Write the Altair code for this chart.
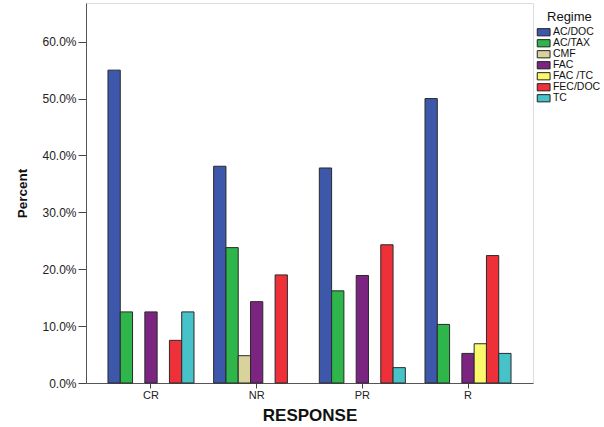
import altair as alt
import pandas as pd

responses = ["CR", "NR", "PR", "R"]
regimes = ["AC/DOC", "AC/TAX", "CMF", "FAC", "FAC /TC", "FEC/DOC", "TC"]
colors = ["#3d58aa", "#2eb64b", "#d8d29b", "#7b2581", "#fbf86c", "#ee3039", "#47c2c8"]

# percent values per response (None = bar absent)
cr_vals = [55.0, 12.5, None, 12.5, None, 7.5, 12.5]
nr_vals = [38.1, 23.8, 4.8, 14.3, None, 19.0, None]
pr_vals = [37.8, 16.2, None, 18.9, None, 24.3, 2.7]
r_vals = [50.0, 10.3, None, 5.2, 6.9, 22.4, 5.2]

rows = []
for resp, vals in zip(responses, [cr_vals, nr_vals, pr_vals, r_vals]):
    for reg, v in zip(regimes, vals):
        if v is not None:
            rows.append({"Response": resp, "Regime": reg, "Percent": v / 100.0})
df = pd.DataFrame(rows)

FONT = "Liberation Sans"

chart = alt.Chart(df).mark_bar(stroke="#2a2a2a", strokeWidth=1).encode(
    x=alt.X(
        "Response:N",
        sort=responses,
        scale=alt.Scale(paddingInner=0.186, paddingOuter=0.208),
        axis=alt.Axis(
            title="RESPONSE", labelAngle=0, labelFont=FONT, labelFontSize=11,
            labelColor="#222", tickSize=5, tickColor="#444", domainColor="#555",
            labelPadding=1, titleFont=FONT, titleFontSize=17, titleFontWeight="bold",
            titleColor="#111", titleY=32, titleBaseline="middle",
        ),
    ),
    xOffset=alt.XOffset("Regime:N", sort=regimes,
                        scale=alt.Scale(domain=regimes, paddingInner=0, paddingOuter=0)),
    y=alt.Y(
        "Percent:Q",
        scale=alt.Scale(domain=[0, 0.668], nice=False),
        axis=alt.Axis(
            title="Percent", format=".1%", values=[0, 0.1, 0.2, 0.3, 0.4, 0.5, 0.6],
            grid=False, labelFont=FONT, labelFontSize=12, labelColor="#222",
            tickSize=8, tickColor="#444", domainColor="#555", labelPadding=2,
            titleFont=FONT, titleFontSize=13.5, titleFontWeight="bold", titleColor="#111",
            titleX=-64, titleY=190, titleBaseline="middle",
        ),
    ),
    color=alt.Color(
        "Regime:N",
        scale=alt.Scale(domain=regimes, range=colors),
        legend=alt.Legend(
            title="Regime", orient="none", legendX=452.4, legendY=8,
            titleFont=FONT, titleFontSize=13, titleFontWeight="normal", titleColor="#111",
            titleAnchor="middle", titlePadding=3,
            labelFont=FONT, labelFontSize=10.5, labelColor="#111", labelOffset=4,
            symbolType="M-1.6,-0.9H1.6V0.9H-1.6Z", symbolSize=64,
            symbolStrokeColor="#222", symbolStrokeWidth=1, symbolOpacity=1,
            rowPadding=-1.5, padding=0,
        ),
    ),
).properties(
    width=447,
    height=380,
    autosize=alt.AutoSizeParams(type="none"),
    padding={"left": 86, "top": 3, "right": 71, "bottom": 44},
).configure_view(
    fill="#f0f0f0", stroke="#555", strokeWidth=1
).configure(background="white")

chart.save("out.html", embed_options={"renderer": "svg", "actions": False})
